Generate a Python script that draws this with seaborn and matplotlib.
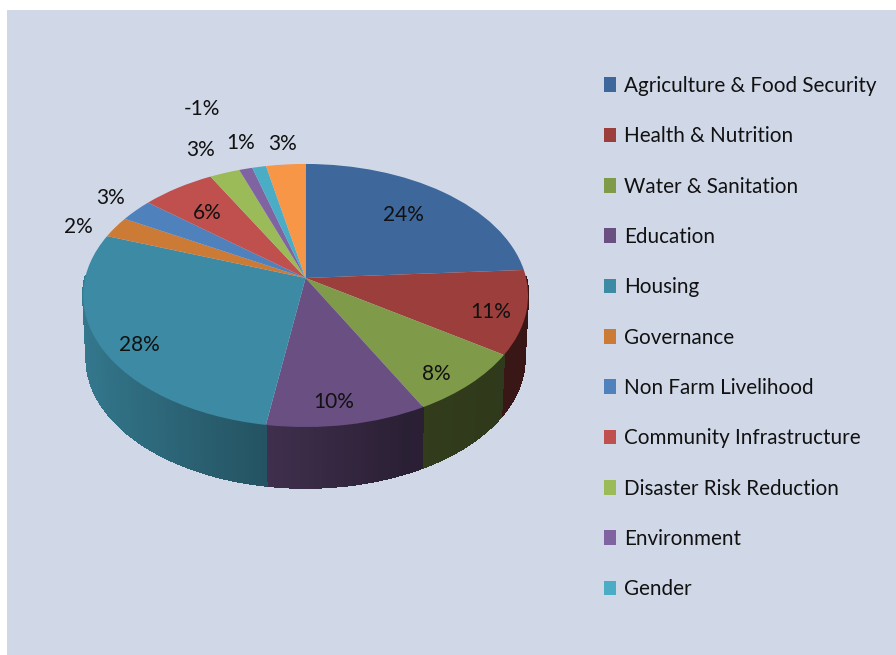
#!/usr/bin/env python3

import matplotlib
matplotlib.use("Agg")
import matplotlib.pyplot as plt
import matplotlib.transforms as mtransforms
import numpy as np
import seaborn as sns
from matplotlib.collections import PolyCollection


FIGSIZE = (8.96, 6.55)

categories = ["Agriculture & Food Security", "Health & Nutrition", "Water & Sanitation",
              "Education", "Housing", "Governance", "Non Farm Livelihood",
              "Community Infrastructure", "Disaster Risk Reduction", "Environment", "Gender"]
# last slice (orange) has no legend entry in the original
shares = [24.0, 10.3, 7.9, 10.3, 28.0, 2.6, 2.8, 6.1, 2.5, 1.1, 1.15, 3.25]
share_labels = ["24%", "11%", "8%", "10%", "28%", "2%", "3%", "6%", "3%", "-1%", "1%", "3%"]
slice_colors = ["#3E679B", "#9B3E3C", "#7F9A48", "#6A4F82", "#3C8AA3", "#CB7B36",
                "#4F81BD", "#C0504D", "#9BBB59", "#8064A2", "#4BACC6", "#F79646"]

# label centres in picture pixels
LABEL_XY = [(403, 215), (491, 312), (436, 374), (334, 402), (139, 345), (78, 227),
            (111, 198), (207, 213), (201, 150), (202, 109), (241, 143), (283, 144)]

PANEL = "#D0D8E8"
FONT = "Lato"
FONTSIZE = 15

# tilted disc: apex in pixels, axis scales, perspective strength
APEX_X, APEX_Y = 305.6, 278.0
SCALE_X, SCALE_Y, PERSP = 220.5, 129.2, 0.133
DEPTH = 63.0
BOTTOM_SCALE = 0.985


class TiltedDisk(mtransforms.Transform):
    """Map the unit pie disc to picture pixels, with perspective."""
    input_dims = 2
    output_dims = 2
    is_separable = False

    def __init__(self, scale=1.0, drop=0.0):
        super().__init__()
        self.scale = scale
        self.drop = drop

    def transform_non_affine(self, values):
        values = np.asarray(values)
        u, v = values[:, 0], values[:, 1]
        w = 1 + PERSP * v
        x = APEX_X + self.scale * SCALE_X * u / w
        y = APEX_Y - self.scale * SCALE_Y * v / w + self.drop
        return np.column_stack([x, y])


def side_shade(u):
    # side wall gets darker from left to right
    return np.interp(u, [-1.0, -0.2, 0.4, 1.0], [0.88, 0.62, 0.40, 0.36])


sns.set_theme(style="white")
plt.rcParams['font.family'] = [FONT, 'DejaVu Sans']

fig = plt.figure(figsize=FIGSIZE, dpi=100, facecolor="white")
ax = fig.add_axes([7 / 896, 0, 889 / 896, 645 / 655])

wedges, _ = ax.pie(shares, colors=slice_colors, startangle=90, counterclock=False,
                   radius=1, wedgeprops={"linewidth": 0})
ax.set_aspect("auto")
ax.set_xlim(7, 896)
ax.set_ylim(655, 10)
ax.set_frame_on(True)
ax.set_facecolor(PANEL)
sns.despine(ax=ax, left=True, bottom=True)

top_disk = TiltedDisk()
low_disk = TiltedDisk(scale=BOTTOM_SCALE, drop=DEPTH)

for wedge, color in zip(wedges, slice_colors):
    wedge.set_transform(top_disk + ax.transData)
    wedge.set_zorder(3)

    # side wall as thin quads under the top face, back of the disc is hidden anyway
    angles = np.radians(np.arange(wedge.theta1, wedge.theta2 + 1.0, 1.0))
    angles[-1] = np.radians(wedge.theta2)
    ring = np.column_stack([np.cos(angles), np.sin(angles)])
    upper = top_disk.transform(ring)
    lower = low_disk.transform(ring)
    quads, quad_colors = [], []
    base = np.array(matplotlib.colors.to_rgb(color))
    for i in range(len(ring) - 1):
        if ring[i:i + 2, 1].max() > 0.02:
            continue
        quads.append([upper[i], upper[i + 1], lower[i + 1], lower[i]])
        quad_colors.append(base * side_shade(ring[i:i + 2, 0].mean()))
    if quads:
        ax.add_collection(PolyCollection(quads, facecolors=quad_colors, edgecolors=quad_colors,
                                         linewidths=0.8, antialiaseds=False, zorder=2))

for text, (x, y) in zip(share_labels, LABEL_XY):
    ax.text(x, y, text, ha="center", va="center", fontsize=FONTSIZE, color="#111111", zorder=4)

legend = ax.legend(wedges[:len(categories)], categories, loc="upper left",
                   bbox_to_anchor=((604 - 7) / 889, 1 - (76 - 10) / 645), frameon=False,
                   fontsize=14.85, handlelength=0.6, handleheight=0.72, handletextpad=0.38,
                   labelspacing=1.47, borderpad=0, borderaxespad=0)
for text in legend.get_texts():
    text.set_color("#111111")

fig.savefig("out.png", dpi=100, facecolor="white")
plt.close()
